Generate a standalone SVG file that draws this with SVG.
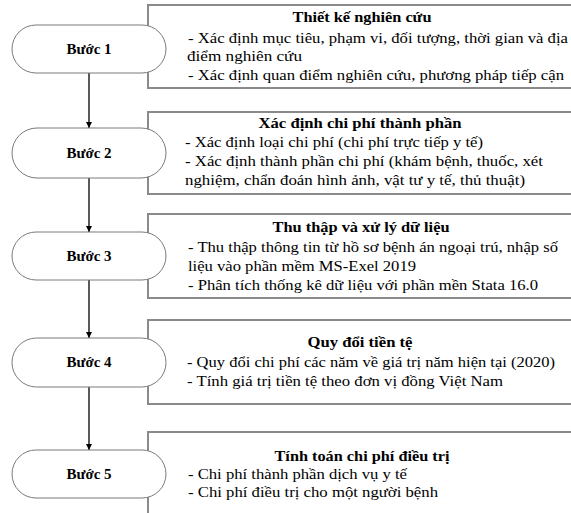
<svg xmlns="http://www.w3.org/2000/svg" width="571" height="513" viewBox="0 0 571 513">
<defs>
<style>
.box{fill:#fff;stroke:#8a8a8a;stroke-width:2}
.st{fill:#fff;stroke:#7a7a7a;stroke-width:1}
.t{font-family:"Liberation Serif","Times New Roman",serif;font-size:15.5px;fill:#000}
.b{font-weight:bold;text-anchor:middle;font-size:15px}
.lab{font-family:"Liberation Serif","Times New Roman",serif;font-size:15px;font-weight:bold;text-anchor:middle;fill:#000}
.c{stroke:#000;stroke-width:1.3;fill:none}
</style>
<marker id="ah" viewBox="0 0 10 10" refX="10" refY="5" markerWidth="6" markerHeight="8" markerUnits="userSpaceOnUse" orient="auto">
<path d="M0,0 L10,5 L0,10 Z" fill="#000"/>
</marker>
</defs>
<rect width="571" height="513" fill="#fff"/>
<g id="box1">
<rect class="box" x="148" y="5" width="430" height="83"/>
<text class="t b" x="362" y="22" textLength="139" lengthAdjust="spacingAndGlyphs">Thiết kế nghiên cứu</text>
<text class="t" x="188" y="43" textLength="380" lengthAdjust="spacingAndGlyphs">- Xác định mục tiêu, phạm vi, đối tượng, thời gian và địa</text>
<text class="t" x="187" y="61" textLength="115" lengthAdjust="spacingAndGlyphs">điểm nghiên cứu</text>
<text class="t" x="188" y="80" textLength="376" lengthAdjust="spacingAndGlyphs">- Xác định quan điểm nghiên cứu, phương pháp tiếp cận</text>
</g>
<g id="box2">
<rect class="box" x="148" y="112" width="430" height="82"/>
<text class="t b" x="360" y="128" textLength="203" lengthAdjust="spacingAndGlyphs">Xác định chi phí thành phần</text>
<text class="t" x="185" y="147" textLength="298" lengthAdjust="spacingAndGlyphs">- Xác định loại chi phí (chi phí trực tiếp y tế)</text>
<text class="t" x="185" y="166" textLength="358" lengthAdjust="spacingAndGlyphs">- Xác định thành phần chi phí (khám bệnh, thuốc, xét</text>
<text class="t" x="185" y="185" textLength="340" lengthAdjust="spacingAndGlyphs">nghiệm, chẩn đoán hình ảnh, vật tư y tế, thủ thuật)</text>
</g>
<g id="box3">
<rect class="box" x="148" y="214" width="430" height="84"/>
<text class="t b" x="361" y="232" textLength="177" lengthAdjust="spacingAndGlyphs">Thu thập và xử lý dữ liệu</text>
<text class="t" x="188" y="252" textLength="370" lengthAdjust="spacingAndGlyphs">- Thu thập thông tin từ hồ sơ bệnh án ngoại trú, nhập số</text>
<text class="t" x="188" y="271" textLength="228" lengthAdjust="spacingAndGlyphs">liệu vào phần mềm MS-Exel 2019</text>
<text class="t" x="188" y="290" textLength="350" lengthAdjust="spacingAndGlyphs">- Phân tích thống kê dữ liệu với phần mền Stata 16.0</text>
</g>
<g id="box4">
<rect class="box" x="148" y="320" width="430" height="84"/>
<text class="t b" x="360" y="347" textLength="105" lengthAdjust="spacingAndGlyphs">Quy đổi tiền tệ</text>
<text class="t" x="187" y="367" textLength="368" lengthAdjust="spacingAndGlyphs">- Quy đổi chi phí các năm về giá trị năm hiện tại (2020)</text>
<text class="t" x="187" y="386" textLength="316" lengthAdjust="spacingAndGlyphs">- Tính giá trị tiền tệ theo đơn vị đồng Việt Nam</text>
</g>
<g id="box5">
<rect class="box" x="148" y="432" width="430" height="90"/>
<text class="t b" x="362" y="461" textLength="175" lengthAdjust="spacingAndGlyphs">Tính toán chi phí điều trị</text>
<text class="t" x="188" y="479" textLength="219" lengthAdjust="spacingAndGlyphs">- Chi phí thành phần dịch vụ y tế</text>
<text class="t" x="188" y="497" textLength="250" lengthAdjust="spacingAndGlyphs">- Chi phí điều trị cho một người bệnh</text>
</g>
<g id="connectors">
<line class="c" x1="89" y1="73" x2="89" y2="128" marker-end="url(#ah)"/>
<line class="c" x1="89" y1="178" x2="89" y2="232" marker-end="url(#ah)"/>
<line class="c" x1="89" y1="280" x2="89" y2="338" marker-end="url(#ah)"/>
<line class="c" x1="89" y1="387" x2="89" y2="450" marker-end="url(#ah)"/>
</g>
<g id="step1">
<rect class="st" x="12" y="25" width="154" height="48" rx="24" ry="24"/>
<text class="lab" x="89" y="54">Bước 1</text>
</g>
<g id="step2">
<rect class="st" x="12" y="128" width="154" height="50" rx="25" ry="25"/>
<text class="lab" x="89" y="158">Bước 2</text>
</g>
<g id="step3">
<rect class="st" x="12" y="232" width="154" height="48" rx="24" ry="24"/>
<text class="lab" x="89" y="261">Bước 3</text>
</g>
<g id="step4">
<rect class="st" x="12" y="338" width="154" height="49" rx="24.5" ry="24.5"/>
<text class="lab" x="89" y="367">Bước 4</text>
</g>
<g id="step5">
<rect class="st" x="12" y="450" width="154" height="48" rx="24" ry="24"/>
<text class="lab" x="89" y="479">Bước 5</text>
</g>
</svg>
